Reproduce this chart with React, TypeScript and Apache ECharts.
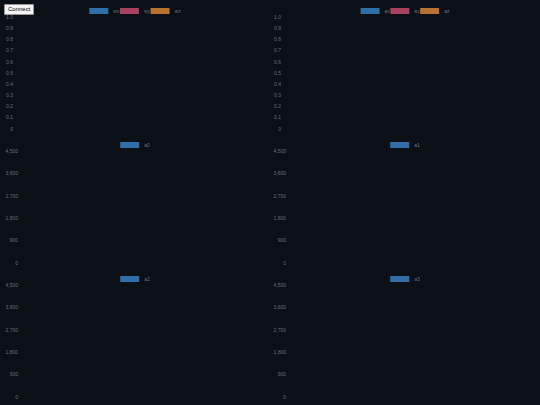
import { useEffect, useRef } from 'react'
import * as echarts from 'echarts'

// series names per panel (no samples received yet, so every series is empty)
const gyroNames = ['wx', 'wy', 'wz']
const accelNames = ['ax', 'ay', 'az']
const channelNames = ['a0', 'a1', 'a2', 'a3']

const gyroData: number[][] = [[], [], []]
const accelData: number[][] = [[], [], []]
const channelData: number[][] = [[], [], [], []]

const unitRange = { min: 0, max: 1, interval: 0.1 }
const countRange = { min: 0, max: 4500, interval: 900 }

const colors = ['#2f6ea6', '#a9405f', '#b9722f']
const bg = '#0b0f16'

interface PanelProps {
  names: string[]
  data: number[][]
  range: { min: number; max: number; interval: number }
  left: number
  decimals?: boolean
}

function Panel({ names, data, range, left, decimals }: PanelProps) {
  const ref = useRef<HTMLDivElement>(null)

  useEffect(() => {
    if (!ref.current) return
    const chart = echarts.init(ref.current, undefined, { renderer: 'svg' })

    chart.setOption({
      animation: false,
      backgroundColor: bg,
      color: colors,
      legend: {
        top: 3,
        left: 'center',
        icon: 'rect',
        itemWidth: 19,
        itemHeight: 6,
        itemGap: 0.5,
        textStyle: { color: '#6b7078', fontSize: 5 },
        data: names,
      },
      grid: { left, right: 10, top: 17, bottom: 5.5 },
      xAxis: { type: 'value', show: false, min: 0, max: 100 },
      yAxis: {
        type: 'value',
        min: range.min,
        max: range.max,
        interval: range.interval,
        axisLine: { show: false },
        axisTick: { show: false },
        splitLine: { show: false },
        axisLabel: {
          color: '#6b7078',
          fontSize: 5,
          margin: 8,
          formatter: decimals
            ? (v: number) => (v === 0 ? '0' : v.toFixed(1))
            : (v: number) => v.toLocaleString('en-US'),
        },
      },
      series: names.map((n, i) => ({
        name: n,
        type: 'line',
        showSymbol: false,
        lineStyle: { width: 1 },
        data: data[i],
      })),
    })

    return () => chart.dispose()
  }, [names, data, range, left, decimals])

  return <div ref={ref} style={{ width: 270, height: 134 }} />
}

export default function App() {
  return (
    <div
      style={{
        position: 'fixed',
        inset: 0,
        background: bg,
        fontFamily: 'sans-serif',
      }}
    >
      <button
        style={{
          position: 'absolute',
          left: 4,
          top: 4,
          zIndex: 2,
          fontSize: 6,
          lineHeight: '7px',
          padding: '1px 3px',
          background: '#f4f4f4',
          color: '#000',
          border: '1px solid #999',
          borderRadius: 1,
        }}
      >
        Connect
      </button>
      <div style={{ display: 'grid', gridTemplateColumns: '270px 270px' }}>
        <Panel names={gyroNames} data={gyroData} range={unitRange} left={21} decimals />
        <Panel names={accelNames} data={accelData} range={unitRange} left={19} decimals />
        <Panel names={[channelNames[0]]} data={[channelData[0]]} range={countRange} left={26} />
        <Panel names={[channelNames[1]]} data={[channelData[1]]} range={countRange} left={24} />
        <Panel names={[channelNames[2]]} data={[channelData[2]]} range={countRange} left={26} />
        <Panel names={[channelNames[3]]} data={[channelData[3]]} range={countRange} left={24} />
      </div>
    </div>
  )
}
